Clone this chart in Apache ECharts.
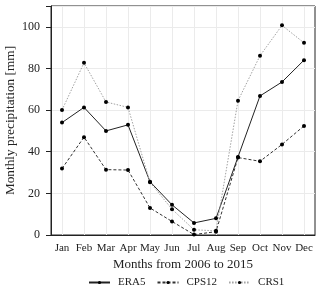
<!DOCTYPE html>
<html><head><meta charset="utf-8">
<script src="https://cdn.jsdelivr.net/npm/echarts@6/dist/echarts.min.js"></script>
<style>html,body{margin:0;padding:0;background:#fff}#c{width:320px;height:293px}</style>
</head><body><div id="c"></div>
<script>
const months = ['Jan','Feb','Mar','Apr','May','Jun','Jul','Aug','Sep','Oct','Nov','Dec'];
const era5  = [54.0, 61.3, 50.0, 52.9, 25.6, 14.5, 5.8, 8.0, 37.5, 66.8, 73.5, 84.0];
const cps12 = [31.9, 47.0, 31.4, 31.2, 13.0, 6.5, 0.2, 1.6, 37.2, 35.4, 43.5, 52.4];
const crs1  = [60.0, 82.7, 63.9, 61.3, 25.3, 12.4, 2.5, 2.0, 64.5, 86.1, 100.7, 92.3];
const yTicks = [0, 20, 40, 60, 80, 100];

const font = 'Liberation Serif';
const chart = echarts.init(document.getElementById('c'), null, {renderer: 'canvas'});
function ser(name, data, color, type, width) {
  return {
    name, type: 'line', data,
    symbol: 'circle', symbolSize: 4,
    itemStyle: {color: '#000'},
    lineStyle: {color: color, type: type, width: width},
    emphasis: {disabled: true},
    animation: false
  };
}
chart.setOption({
  animation: false,
  textStyle: {fontFamily: font},
  grid: {left: 51, right: 5, top: 6, bottom: 58, show: true, borderColor: '#222', borderWidth: 1,
         containLabel: false, outerBoundsMode: 'none'},
  legend: {
    top: 277, left: 88, padding: 0, itemGap: 11, itemWidth: 21, itemHeight: 4,
    textStyle: {fontFamily: font, fontSize: 11, color: '#222', padding: [0, 0, 0, 3]},
    data: ['ERA5', 'CPS12', 'CRS1']
  },
  xAxis: {
    type: 'category', data: months, boundaryGap: true,
    name: 'Months from 2006 to 2015', nameLocation: 'middle', nameGap: 23, nameMoveOverlap: false,
    nameTextStyle: {fontFamily: font, fontSize: 13, color: '#222'},
    axisLine: {lineStyle: {color: '#222'}},
    axisTick: {alignWithLabel: true, length: 4, lineStyle: {color: '#222'}},
    axisLabel: {fontFamily: font, fontSize: 11, color: '#222', margin: 8, interval: 0},
    splitLine: {show: true, alignWithLabel: true, lineStyle: {color: '#ebebeb', width: 1}}
  },
  yAxis: {
    type: 'value', min: 0, max: 110, interval: 20,
    name: 'Monthly precipitation [mm]', nameLocation: 'middle', nameGap: 34, nameMoveOverlap: false,
    nameTextStyle: {fontFamily: font, fontSize: 13.3, color: '#222'},
    axisLine: {show: true, lineStyle: {color: '#222'}},
    axisTick: {show: true, length: 5, lineStyle: {color: '#222'}},
    axisLabel: {fontFamily: font, fontSize: 12, color: '#222', margin: 11,
      formatter: v => yTicks.includes(v) ? String(v) : ''},
    splitLine: {show: true, lineStyle: {color: '#ebebeb', width: 1}}
  },
  series: [
    ser('ERA5', era5, '#222', 'solid', 1),
    ser('CPS12', cps12, '#333', [3, 2], 1),
    ser('CRS1', crs1, '#a0a0a0', [1.5, 1.5], 1)
  ]
});
</script></body></html>
